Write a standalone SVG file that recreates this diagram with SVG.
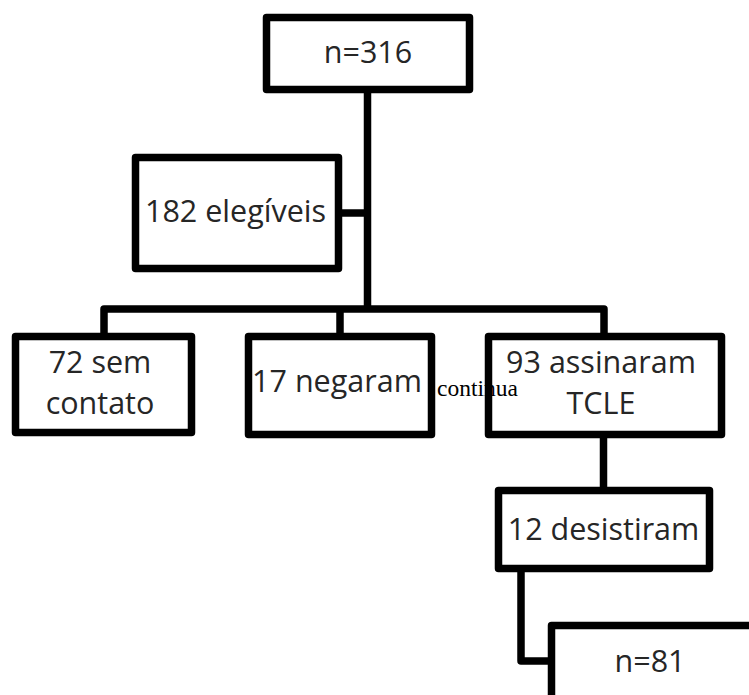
<svg xmlns="http://www.w3.org/2000/svg" width="749" height="695" viewBox="0 0 749 695">
<style>
.box{fill:#fff;stroke:#000;stroke-width:7.5;stroke-linejoin:round}
.ln{fill:none;stroke:#000;stroke-width:7.5;stroke-linejoin:round}
.t{font-family:"Open Sans","Liberation Sans",sans-serif;font-size:30.5px;fill:#262626;text-anchor:middle}
.c{font-family:"Liberation Serif","Times New Roman",serif;font-size:23.5px;fill:#000}
</style>
<rect width="749" height="695" fill="#fff"/>
<text class="c" x="437" y="396">continua</text>
<g id="connectors">
<path class="ln" d="M367.5 89.5V309"/>
<path class="ln" d="M338.5 213H367.5"/>
<path class="ln" d="M104 336.5V309H604V336.5"/>
<path class="ln" d="M340 309V336.5"/>
<path class="ln" d="M603.5 434.5V490.5"/>
<path class="ln" d="M521 568.5V661H551.5"/>
</g>
<g id="n316"><rect class="box" x="266.5" y="17.5" width="203" height="72"/><text class="t" x="368" y="63">n=316</text></g>
<g id="elegiveis"><rect class="box" x="135.5" y="157.5" width="203" height="111"/><text class="t" x="235.5" y="222">182 elegíveis</text></g>
<g id="semcontato"><rect class="box" x="15.5" y="336.5" width="176" height="96"/><text class="t" x="100" y="373">72 sem</text><text class="t" x="100" y="414">contato</text></g>
<g id="negaram"><rect class="box" x="248.5" y="336.5" width="183" height="98"/><text class="t" x="337" y="392">17 negaram</text></g>
<g id="assinaram"><rect class="box" style="fill:none" x="488.5" y="336.5" width="233" height="98"/><text class="t" x="601" y="373">93 assinaram</text><text class="t" x="601" y="414">TCLE</text></g>
<g id="desistiram"><rect class="box" x="498.5" y="490.5" width="211" height="78"/><text class="t" x="603.5" y="540">12 desistiram</text></g>
<g id="n81"><rect class="box" x="551.5" y="625.5" width="220" height="100"/><text class="t" x="650" y="672">n=81</text></g>
</svg>
